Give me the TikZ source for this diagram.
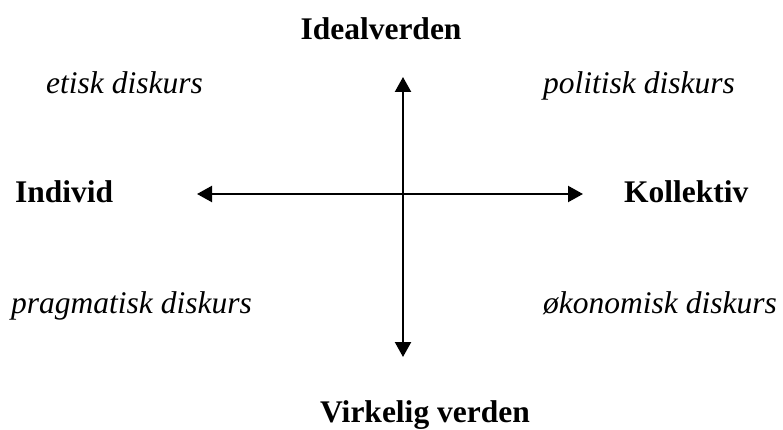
\documentclass[tikz,border=0pt]{standalone}
\usepackage{fontspec}
\setmainfont{Liberation Serif}
\usetikzlibrary{arrows.meta, positioning}

\begin{document}
\begin{tikzpicture}[
    x=1pt, y=-1pt,
    >={Triangle[length=15pt, width=16pt]},
    axis/.style = {<->, line width=2.2pt, draw=black},
    pole/.style = {font=\fontsize{31.5}{36}\selectfont\bfseries, inner sep=0pt},
    disk/.style = {font=\fontsize{31.5}{36}\selectfont\itshape, inner sep=0pt, anchor=base west}
  ]
  \useasboundingbox (0,0) rectangle (783,430);

  % --- axis end points ---
  \coordinate (N) at (403,77);
  \coordinate (S) at (403,357);
  \coordinate (W) at (197,194);
  \coordinate (E) at (583,194);

  % --- axes ---
  \draw[axis] (W) -- (E);
  \draw[axis] (S) -- (N);

  % --- poles ---
  \node[pole, anchor=base] (ideal) at (381,40) {Idealverden};
  \node[pole, anchor=base] (virk) at (425,422) {Virkelig verden};
  \node[pole, anchor=base west] (indiv) at (15,203) {Individ};
  \node[pole, anchor=base west] (koll) at (624,203) {Kollektiv};

  % --- discourses (quadrants) ---
  \node[disk] (etisk) at (46,94) {etisk diskurs};
  \node[disk] (polit) at (543,94) {politisk diskurs};
  \node[disk] (pragm) at (11,313) {pragmatisk diskurs};
  \node[disk] (okon) at (543,313) {økonomisk diskurs};

\end{tikzpicture}
\end{document}
